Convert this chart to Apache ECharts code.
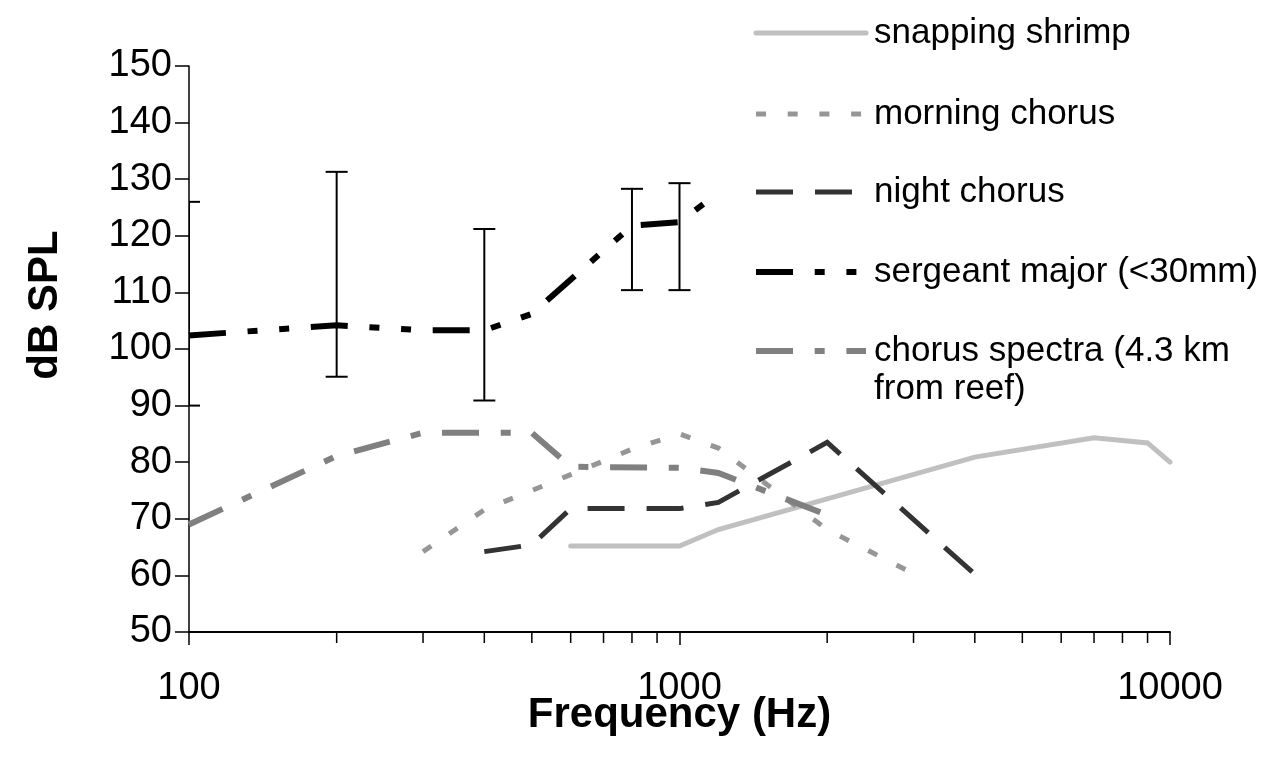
<!DOCTYPE html>
<html>
<head>
<meta charset="utf-8">
<script src="https://cdn.jsdelivr.net/npm/echarts@6/dist/echarts.min.js"></script>
<style>
  html, body { margin: 0; padding: 0; background: #fff; }
  #chart { width: 1266px; height: 771px; }
</style>
</head>
<body>
<div id="chart"></div>
<script>
// Sound pressure level spectra (dB SPL) against frequency (Hz)
const seriesNames = [
  'snapping shrimp',
  'morning chorus',
  'night chorus',
  'sergeant major (<30mm)',
  'chorus spectra (4.3 km\nfrom reef)'
];

const shrimpFreq = [600, 1000, 1200, 4000, 7000, 9000, 10000];
const shrimpDb   = [65.2, 65.2, 68.1, 80.9, 84.3, 83.4, 80.0];

const morningFreq = [300, 400, 600, 800, 1000, 1200, 2000, 3000];
const morningDb   = [64.2, 71.6, 77.8, 82.3, 85.0, 82.5, 68.1, 60.3];

const nightFreq = [400, 500, 600, 1000, 1200, 2000, 4000];
const nightDb   = [64.2, 65.4, 71.8, 71.8, 72.9, 83.5, 60.2];

const majorFreq = [100, 200, 300, 400, 500, 800, 1000, 1200];
const majorDb   = [102.4, 104.2, 103.3, 103.3, 106.2, 121.8, 122.4, 127.6];

// error bars for sergeant major
const errFreq = [100, 200, 400, 800, 1000];
const errLow  = [90.0, 95.1, 90.9, 110.4, 110.4];
const errHigh = [126.0, 131.3, 121.2, 128.3, 129.3];

const spectraFreq = [100, 200, 300, 500, 600, 1000, 1200, 2000];
const spectraDb   = [69.0, 81.1, 85.2, 85.2, 79.2, 79.0, 78.1, 70.7];

const yTicks = [50, 60, 70, 80, 90, 100, 110, 120, 130, 140, 150];
const xMajorTicks = [100, 1000, 10000];
const xMinorTicks = [200, 300, 400, 500, 600, 700, 800, 900,
                     2000, 3000, 4000, 5000, 6000, 7000, 8000, 9000];

// line appearance for each series, in legend order
const styles = [
  { color: '#c0c0c0', width: 5, dash: null, cap: 'round' },
  { color: '#969696', width: 5, dash: [10, 21.7], cap: 'butt' },
  { color: '#333333', width: 5, dash: [37, 22], cap: 'butt' },
  { color: '#000000', width: 6, dash: [37, 21.7, 10, 21.7, 10, 21.7], cap: 'butt' },
  { color: '#808080', width: 6, dash: [37, 21.7, 10, 21.7], cap: 'butt' }
];

const seriesData = [
  [shrimpFreq, shrimpDb],
  [morningFreq, morningDb],
  [nightFreq, nightDb],
  [majorFreq, majorDb],
  [spectraFreq, spectraDb]
];

const FONT = '"Liberation Sans", Arial, sans-serif';

const lineSeries = seriesData.map(([fx, db], i) => ({
  type: 'line',
  name: seriesNames[i],
  data: fx.map((f, k) => [f, db[k]]),
  symbol: 'none',
  smooth: false,
  silent: true,
  z: 2 + i,
  lineStyle: {
    color: styles[i].color,
    width: styles[i].width,
    type: styles[i].dash || 'solid',
    cap: styles[i].cap,
    join: 'miter'
  }
}));

const errorSeries = {
  type: 'custom',
  name: 'error',
  clip: true,
  silent: true,
  z: 10,
  data: errFreq.map((f, i) => [f, errLow[i], errHigh[i]]),
  encode: { x: 0, y: [1, 2] },
  renderItem(params, api) {
    const lo = api.coord([api.value(0), api.value(1)]);
    const hi = api.coord([api.value(0), api.value(2)]);
    const half = 11;
    const st = { stroke: '#000', lineWidth: 2 };
    return {
      type: 'group',
      children: [
        { type: 'line', shape: { x1: lo[0], y1: lo[1], x2: hi[0], y2: hi[1] }, style: st },
        { type: 'line', shape: { x1: lo[0] - half, y1: lo[1], x2: lo[0] + half, y2: lo[1] }, style: st },
        { type: 'line', shape: { x1: hi[0] - half, y1: hi[1], x2: hi[0] + half, y2: hi[1] }, style: st }
      ]
    };
  }
};

// intermediate decade ticks on the log axis
const minorTickSeries = {
  type: 'custom',
  name: 'minorTicks',
  clip: false,
  silent: true,
  z: 20,
  data: xMinorTicks.map(f => [f, yTicks[0]]),
  renderItem(params, api) {
    const p = api.coord([api.value(0), api.value(1)]);
    return {
      type: 'line',
      shape: { x1: p[0], y1: p[1], x2: p[0], y2: p[1] + 11 },
      style: { stroke: '#000', lineWidth: 1.5 }
    };
  }
};

// legend drawn as graphic items
const legendX = 756, legendLen = 110, legendTextX = 874;
const legendRowY = [33, 114, 192, 272, 351];
const legendGraphics = [];
seriesNames.forEach((name, i) => {
  const s = styles[i];
  legendGraphics.push({
    type: 'line',
    silent: true,
    shape: { x1: legendX, y1: legendRowY[i], x2: legendX + legendLen, y2: legendRowY[i] },
    style: {
      stroke: s.color, lineWidth: s.width,
      lineDash: s.dash || null, lineCap: s.cap
    }
  });
  legendGraphics.push({
    type: 'text',
    silent: true,
    x: legendTextX,
    y: legendRowY[i],
    style: {
      text: name,
      font: '35px ' + FONT,
      fill: '#000',
      align: 'left',
      verticalAlign: 'middle',
      lineHeight: 38
    }
  });
});
// multi-line entry: keep the first line level with its sample
legendGraphics[legendGraphics.length - 1].style.verticalAlign = 'top';
legendGraphics[legendGraphics.length - 1].y = legendRowY[4] - 19;

const chart = echarts.init(document.getElementById('chart'), null, { renderer: 'canvas' });

chart.setOption({
  animation: false,
  backgroundColor: '#fff',
  grid: { left: 189, right: 96, top: 66, bottom: 139, containLabel: false, outerBoundsMode: 'none' },
  xAxis: {
    type: 'log',
    logBase: 10,
    min: xMajorTicks[0],
    max: xMajorTicks[xMajorTicks.length - 1],
    splitLine: { show: false },
    axisLine: { show: true, lineStyle: { color: '#000', width: 2 } },
    axisTick: { show: true, inside: false, length: 13, lineStyle: { color: '#000', width: 1.5 } },
    axisLabel: {
      show: true,
      margin: 38,
      fontSize: 38,
      fontFamily: FONT,
      color: '#000',
      formatter: v => String(Math.round(v))
    },
    name: 'Frequency (Hz)',
    nameLocation: 'middle',
    nameGap: 62,
    nameMoveOverlap: false,
    nameTextStyle: { fontSize: 42, fontWeight: 'bold', fontFamily: FONT, color: '#000' }
  },
  yAxis: {
    type: 'value',
    min: yTicks[0],
    max: yTicks[yTicks.length - 1],
    interval: 10,
    splitLine: { show: false },
    axisLine: { show: true, lineStyle: { color: '#000', width: 1.5 } },
    axisTick: { show: true, inside: false, length: 14, lineStyle: { color: '#000', width: 1.5 } },
    axisLabel: {
      show: true,
      margin: 17,
      fontSize: 38,
      fontFamily: FONT,
      color: '#000'
    }
  },
  graphic: [
    {
      type: 'text',
      silent: true,
      x: 45,
      y: 305,
      rotation: Math.PI / 2,
      style: {
        text: 'dB SPL',
        font: 'bold 42px ' + FONT,
        fill: '#000',
        align: 'center',
        verticalAlign: 'middle'
      }
    }
  ].concat(legendGraphics),
  series: lineSeries.concat([errorSeries, minorTickSeries])
});
</script>
</body>
</html>
